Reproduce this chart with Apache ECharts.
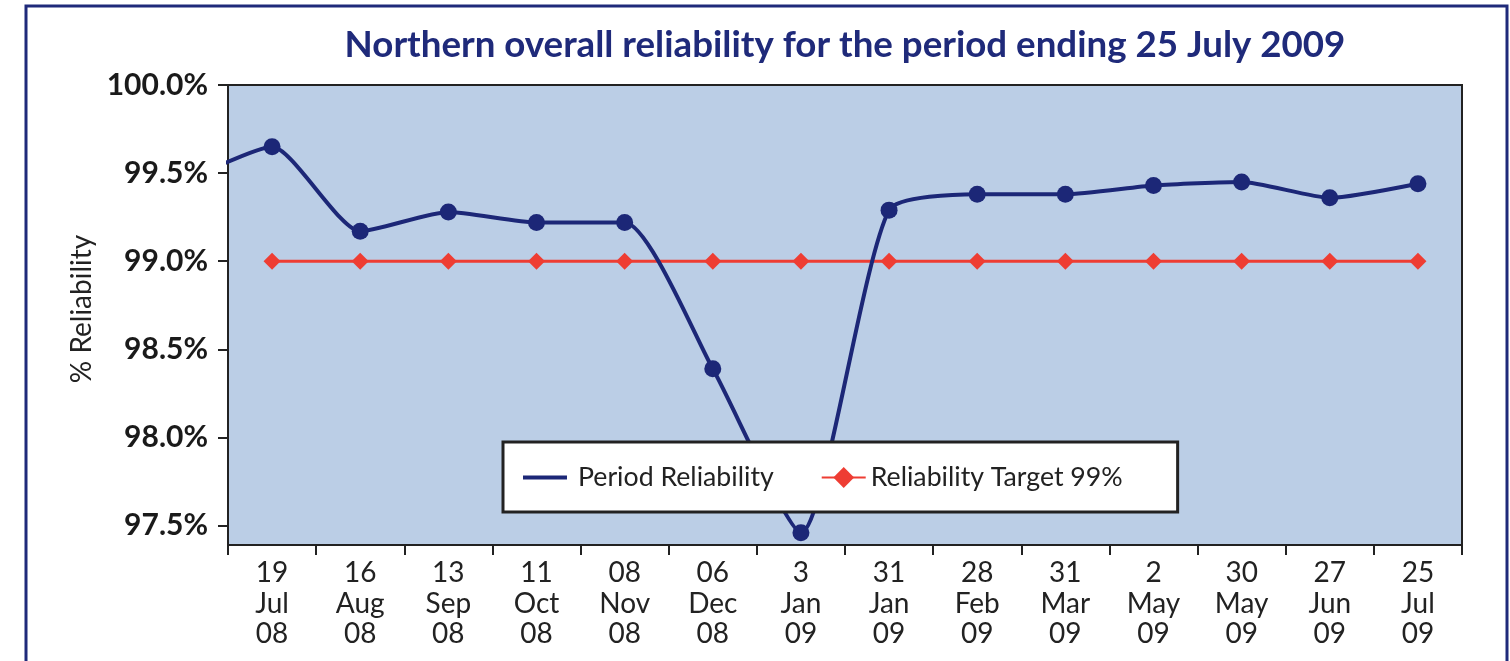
<!DOCTYPE html>
<html>
<head>
<meta charset="utf-8">
<script src="https://cdn.jsdelivr.net/npm/echarts@6/dist/echarts.min.js"></script>
<style>
html,body{margin:0;padding:0;background:#fff;}
#chart{width:1510px;height:661px;}
</style>
</head>
<body>
<div id="chart"></div>
<script>
// ---- data ----
const categories = ['19\nJul\n08','16\nAug\n08','13\nSep\n08','11\nOct\n08','08\nNov\n08','06\nDec\n08','3\nJan\n09','31\nJan\n09','28\nFeb\n09','31\nMar\n09','2\nMay\n09','30\nMay\n09','27\nJun\n09','25\nJul\n09'];
const periodReliability = [99.65, 99.17, 99.28, 99.22, 99.22, 98.39, 97.46, 99.29, 99.38, 99.38, 99.43, 99.45, 99.36, 99.44];
const targetReliability = [99.0, 99.0, 99.0, 99.0, 99.0, 99.0, 99.0, 99.0, 99.0, 99.0, 99.0, 99.0, 99.0, 99.0];
const priorPeriodValue = 99.45; // earlier period, only its approach is visible at the left edge
const yTickValues = [97.5, 98.0, 98.5, 99.0, 99.5, 100.0];

const navy = '#1c2777';
const red = '#ee3d33';

const lineData = [[-1, priorPeriodValue]].concat(periodReliability.map((v, i) => [i, v]));

const chart = echarts.init(document.getElementById('chart'));
chart.setOption({
  animation: false,
  textStyle: { fontFamily: 'Lato' },
  title: {
    text: 'Northern overall reliability for the period ending 25 July 2009',
    left: 840, top: 22, textAlign: 'center',
    textStyle: { color: '#1f2a7a', fontSize: 36.7, fontWeight: 'bold', fontFamily: 'Lato' }
  },
  graphic: [{
    type: 'rect', silent: true, z: -1,
    shape: { x: 26, y: 6, width: 1481, height: 720 },
    style: { fill: 'none', stroke: '#1f2a7a', lineWidth: 3 }
  }],
  legend: {
    left: 503, top: 442,
    orient: 'horizontal',
    backgroundColor: '#fff',
    borderColor: '#222',
    borderWidth: 3,
    padding: [22, 55, 21, 20],
    itemWidth: 44, itemHeight: 26, itemGap: 47,
    textStyle: { fontSize: 26.7, color: '#222', fontFamily: 'Lato', padding: [0, 0, 0, 6] },
    data: [
      { name: 'Period Reliability', icon: 'path://M0,0L0.01,0M0,11H44V15H0ZM44,26L44,26.01', itemStyle: { color: navy } },
      { name: 'Reliability Target 99%', textStyle: { padding: [0, 0, 0, 0] } }
    ]
  },
  grid: {
    left: 228, right: 48, top: 85, bottom: 116,
    show: true, backgroundColor: '#bbcee6', borderColor: '#222', borderWidth: 2
  },
  xAxis: [{
    type: 'category',
    data: categories,
    boundaryGap: true,
    axisLine: { lineStyle: { color: '#222', width: 2 } },
    axisTick: { show: true, length: 10, lineStyle: { color: '#222', width: 2 } },
    axisLabel: { color: '#222', fontSize: 28, lineHeight: 30.5, margin: 13, fontFamily: 'Lato' },
    splitLine: { show: false }
  }, {
    type: 'value', min: -0.5, max: 13.5, show: false
  }],
  yAxis: {
    type: 'value',
    min: 97.39, max: 100,
    name: '% Reliability',
    nameLocation: 'middle',
    nameRotate: 90,
    nameGap: 128,
    nameTextStyle: { fontSize: 28, color: '#222', fontFamily: 'Lato', padding: [0, 0, 0, 12] },
    axisLine: { show: true, onZero: false, lineStyle: { color: '#222', width: 2 } },
    axisTick: { show: true, length: 10, customValues: yTickValues, lineStyle: { color: '#222', width: 2 } },
    axisLabel: {
      customValues: yTickValues, margin: 20,
      formatter: v => v.toFixed(1) + '%',
      color: '#1a1a1a', fontSize: 30, fontWeight: 'bold', fontFamily: 'Lato'
    },
    splitLine: { show: false }
  },
  series: [{
    name: 'Period Reliability',
    type: 'line',
    xAxisIndex: 1,
    data: lineData,
    smooth: 0.2,
    clip: true,
    symbol: 'circle', symbolSize: 17,
    showAllSymbol: true,
    itemStyle: { color: navy },
    lineStyle: { color: navy, width: 4 },
    z: 3
  }, {
    name: 'Reliability Target 99%',
    type: 'line',
    xAxisIndex: 0,
    data: targetReliability,
    symbol: 'diamond', symbolSize: 17,
    itemStyle: { color: red },
    lineStyle: { color: red, width: 3 },
    z: 2
  }]
});
</script>
</body>
</html>
